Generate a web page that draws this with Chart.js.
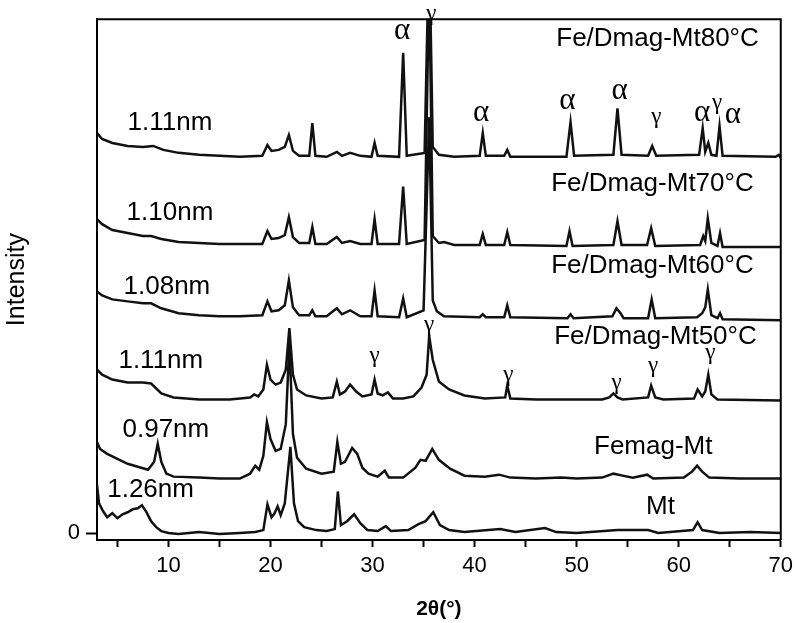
<!DOCTYPE html>
<html>
<head>
<meta charset="utf-8">
<script src="https://cdn.jsdelivr.net/npm/chart.js@4/dist/chart.umd.min.js"></script>
<style>
  html, body { margin: 0; padding: 0; background: #fff; }
  #wrap { width: 799px; height: 623px; }
</style>
</head>
<body>
<div id="wrap"><canvas id="plots"></canvas></div>
<script>
// XRD patterns, offset intensities (arbitrary units), 2theta in degrees
var t80x = [3.0, 3.5, 4.5, 6, 7.5, 8.5, 9.5, 11, 13, 15, 17, 19.2, 19.7, 20.1, 20.8, 21.4, 21.8, 22.2, 22.8, 23.8, 24.1, 24.4, 25.5, 26.5, 27, 27.8, 28.8, 29.9, 30.2, 30.5, 32.6, 33.0, 33.35, 35.1, 35.55, 35.9, 36.5, 38, 40.5, 40.8, 41.1, 42.9, 43.2, 43.5, 49.0, 49.4, 49.75, 53.6, 54.0, 54.4, 57.0, 57.4, 57.8, 62.0, 62.35, 62.6, 62.9, 63.2, 63.7, 64.0, 64.3, 69.5, 69.8, 70];
var t80y = [404, 398, 394, 391, 390, 391, 387, 384, 382, 381, 380, 381, 392, 386, 387, 390, 402, 386, 381, 381, 414, 381, 380, 385, 381, 384, 381, 380, 394, 381, 380, 485, 381, 384, 600, 390, 382, 380, 381, 404, 381, 381, 387, 380, 380, 415, 381, 382, 429, 382, 381, 391, 381, 382, 409, 385, 394, 382, 381, 411, 381, 380, 382, 379];

var t70x = [3.0, 3.5, 4.5, 6, 7.5, 8.3, 9.3, 11, 13, 15, 17, 19.2, 19.7, 20.1, 20.8, 21.4, 21.8, 22.2, 22.8, 23.8, 24.1, 24.4, 25.5, 26.5, 27, 27.8, 28.8, 29.9, 30.2, 30.5, 32.6, 33.0, 33.35, 35.1, 35.55, 35.9, 36.5, 37, 38, 40.5, 40.8, 41.1, 42.9, 43.2, 43.5, 49.0, 49.3, 49.6, 53.6, 54.0, 54.4, 56.9, 57.3, 57.7, 62.1, 62.4, 62.6, 62.85, 63.2, 63.8, 64.05, 64.3, 70];
var t70y = [317, 312, 306, 303, 300, 300, 297, 294, 293, 292, 292, 292, 305, 297, 298, 301, 319, 299, 293, 293, 309, 292, 292, 299, 293, 295, 292, 292, 317, 292, 292, 350, 292, 296, 560, 300, 293, 294, 291, 291, 302, 291, 291, 304, 291, 290, 305, 290, 291, 315, 291, 291, 308, 290, 291, 300, 295, 318, 293, 290, 303, 289, 289];

var t60x = [3.0, 3.5, 4.5, 6, 7.5, 8.3, 9.3, 11, 13, 15, 17, 19.2, 19.7, 20.1, 20.8, 21.4, 21.8, 22.2, 22.8, 23.8, 24.1, 24.4, 25.5, 26.5, 27, 27.8, 28.8, 29.9, 30.2, 30.5, 32.6, 33.0, 33.35, 35.0, 35.55, 35.9, 36.3, 37, 40.5, 40.8, 41.1, 42.9, 43.2, 43.5, 49.1, 49.4, 49.7, 53.5, 53.9, 54.3, 54.6, 57.0, 57.35, 57.7, 61.8, 62.3, 62.6, 62.85, 63.2, 63.8, 64.05, 64.3, 70];
var t60y = [244, 240, 236, 234, 232, 232, 227, 222, 220, 219, 219, 220, 234, 224, 225, 230, 255, 228, 220, 220, 225, 219, 219, 227, 221, 225, 219, 219, 245, 219, 218, 237, 218, 225, 420, 235, 224, 219, 218, 221, 218, 218, 230, 218, 217, 221, 217, 219, 227, 222, 217, 217, 236, 217, 218, 222, 228, 246, 220, 217, 222, 216, 215];

var t50x = [3.0, 3.5, 4.5, 6, 7.5, 8.3, 9.3, 10.5, 13, 16, 18.0, 18.4, 18.8, 19.3, 19.65, 20.0, 20.5, 21.0, 21.5, 21.85, 22.2, 22.6, 23.5, 25, 26.1, 26.5, 26.8, 27.3, 27.8, 28.4, 29, 29.9, 30.2, 30.5, 31.0, 31.5, 32, 33, 34, 34.8, 35.3, 35.55, 35.9, 36.5, 37.5, 39, 41, 43.0, 43.2, 43.5, 46, 50, 52.5, 53.2, 53.6, 54.0, 54.5, 57.0, 57.3, 57.7, 58.5, 61.5, 61.85, 62.3, 62.6, 62.9, 63.2, 63.8, 70];
var t50y = [165, 160, 155, 152, 152, 151, 141, 137, 135, 135, 137, 140, 138, 145, 170, 155, 150, 152, 165, 207, 160, 145, 139, 136, 137, 153, 140, 143, 150, 143, 138, 140, 155, 141, 139, 142, 136, 136, 138, 147, 160, 199, 175, 153, 145, 139, 136, 137, 149, 136, 135, 135, 135, 137, 141, 137, 135, 137, 149, 137, 135, 136, 145, 138, 143, 160, 140, 135, 134];

var femx = [3.0, 3.3, 4, 5, 6, 7, 8, 8.6, 8.95, 9.3, 9.8, 10.5, 13, 15, 17, 18.0, 18.5, 18.9, 19.3, 19.65, 20.0, 20.5, 21.0, 21.5, 21.85, 22.2, 22.6, 23.5, 25, 26.2, 26.55, 26.9, 27.3, 28.0, 28.5, 29, 29.6, 30.5, 31.2, 31.6, 33, 34.2, 34.7, 35.2, 35.85, 36.5, 37.6, 39, 41, 42.4, 43.5, 46, 48.5, 50, 52.5, 53.6, 54.5, 55.5, 56.9, 57.5, 60.5, 61.3, 61.8, 62.3, 63, 66, 70];
var femy = [92, 85, 80, 75, 70, 67, 64, 72, 90, 72, 60, 57, 56, 55, 55, 60, 68, 64, 78, 112, 95, 83, 85, 110, 192, 100, 76, 65, 60, 62, 92, 70, 72, 86, 80, 66, 60, 57, 63, 56, 56, 66, 74, 73, 85, 74, 65, 58, 57, 59, 56, 55, 56, 55, 56, 60, 58, 56, 59, 55, 56, 62, 68, 62, 56, 55, 55];

var mtx = [3.0, 3.2, 3.6, 4.0, 4.5, 5.0, 5.5, 6.0, 6.5, 7.0, 7.4, 7.8, 8.3, 8.8, 9.3, 10, 11, 13, 15, 17, 18.5, 19.3, 19.7, 20.1, 20.4, 20.7, 21.0, 21.4, 21.95, 22.3, 22.7, 23.3, 24.5, 25.5, 26.3, 26.6, 26.9, 27.5, 28.2, 28.8, 29.5, 30.5, 31.3, 31.8, 33.5, 34.5, 35.2, 35.95, 36.6, 37.5, 39, 42.5, 44, 46.9, 48, 50, 54, 57, 58, 61.4, 61.85, 62.3, 64, 67, 70];
var mty = [49, 30, 22, 16, 20, 15, 19, 21, 24, 25, 28, 22, 12, 6, 2, 0, -1, 1, -1, 0, 1, 3, 29, 16, 20, 27, 18, 30, 87, 30, 12, 6, 3, 2, 4, 42, 8, 12, 19, 10, 3, 2, 7, 2, 3, 9, 12, 21, 8, 3, 1, 4, 1, 5, 1, 0, 3, 3, 0, 3, 11, 3, 0, 1, 0];

var xTicks = [5, 10, 15, 20, 25, 30, 35, 40, 45, 50, 55, 60, 65, 70];

// text labels: [text, 2theta, intensity]
var spacingLabels = [["1.11nm", 6.0, 414], ["1.10nm", 5.9, 323], ["1.08nm", 5.6, 249], ["1.11nm", 5.1, 174], ["0.97nm", 5.5, 104], ["1.26nm", 4.0, 44]];
var sampleLabels = [["Fe/Dmag-Mt80°C", 48.0, 499], ["Fe/Dmag-Mt70°C", 47.5, 353], ["Fe/Dmag-Mt60°C", 47.5, 270], ["Fe/Dmag-Mt50°C", 47.8, 198], ["Femag-Mt", 51.7, 87], ["Mt", 56.8, 27]];
var phaseLabels = [["α", 32.9, 507], ["γ", 35.75, 524], ["α", 40.65, 424], ["α", 49.1, 437], ["α", 54.2, 447], ["γ", 57.8, 420], ["α", 62.3, 424], ["γ", 63.75, 434], ["α", 65.3, 422],
  ["γ", 30.2, 179], ["γ", 35.55, 210], ["γ", 43.3, 160], ["γ", 53.9, 152], ["γ", 57.5, 169], ["γ", 63.1, 182]];

function pts(xs, ys) {
  return xs.map(function (x, i) { return { x: x, y: ys[i] }; });
}

function trace(label, xs, ys) {
  return {
    label: label,
    data: pts(xs, ys),
    borderColor: '#111',
    borderWidth: 2.5,
    pointRadius: 0,
    tension: 0,
    fill: false
  };
}

// box round the plot area
var frame = {
  id: 'frame',
  afterDraw: function (chart) {
    var a = chart.chartArea, ctx = chart.ctx;
    ctx.save();
    ctx.strokeStyle = '#000';
    ctx.lineWidth = 2;
    ctx.beginPath();
    ctx.moveTo(a.left, a.top);
    ctx.lineTo(a.right, a.top);
    ctx.lineTo(a.right, a.bottom);
    ctx.stroke();
    ctx.restore();
  }
};

// text annotations placed in data coordinates
var labels = {
  id: 'labels',
  afterDatasetsDraw: function (chart) {
    var ctx = chart.ctx, sx = chart.scales.x, sy = chart.scales.y;
    ctx.save();
    ctx.fillStyle = '#000';
    ctx.textBaseline = 'middle';
    ctx.textAlign = 'left';
    ctx.font = '26px "Liberation Sans", Arial, sans-serif';
    spacingLabels.concat(sampleLabels).forEach(function (l) {
      ctx.fillText(l[0], sx.getPixelForValue(l[1]), sy.getPixelForValue(l[2]));
    });
    ctx.textAlign = 'center';
    phaseLabels.forEach(function (l) {
      ctx.font = (l[0] == 'α' ? '31px' : '23px') + ' "Liberation Serif", "DejaVu Serif", serif';
      ctx.fillText(l[0], sx.getPixelForValue(l[1]), sy.getPixelForValue(l[2]));
    });
    ctx.restore();
  }
};

new Chart(document.getElementById('plots'), {
  type: 'line',
  data: {
    datasets: [
      trace('Fe/Dmag-Mt80°C', t80x, t80y),
      trace('Fe/Dmag-Mt70°C', t70x, t70y),
      trace('Fe/Dmag-Mt60°C', t60x, t60y),
      trace('Fe/Dmag-Mt50°C', t50x, t50y),
      trace('Femag-Mt', femx, femy),
      trace('Mt', mtx, mty)
    ]
  },
  options: {
    responsive: true,
    maintainAspectRatio: false,
    animation: false,
    layout: { padding: { left: 0, top: 13, right: 16, bottom: 0 } },
    plugins: { legend: { display: false }, tooltip: { enabled: false } },
    scales: {
      x: {
        type: 'linear',
        min: 3,
        max: 70,
        afterBuildTicks: function (s) { s.ticks = xTicks.map(function (v) { return { value: v }; }); },
        afterFit: function (s) { s.height = 83; },
        ticks: {
          color: '#000',
          padding: 6,
          maxRotation: 0,
          autoSkip: false,
          font: { family: '"Liberation Sans", Arial, sans-serif', size: 22 },
          callback: function (v) { return v % 10 === 0 ? String(v) : ''; }
        },
        grid: { drawOnChartArea: false, drawTicks: true, tickLength: 7, tickWidth: 2, tickColor: '#000' },
        border: { color: '#000', width: 2 },
        title: {
          display: true,
          text: '2θ(°)',
          color: '#000',
          padding: { top: 0, bottom: 1 },
          font: { family: '"Liberation Sans", Arial, sans-serif', size: 21, weight: 'bold' }
        }
      },
      y: {
        min: -7,
        max: 519,
        afterBuildTicks: function (s) { s.ticks = [{ value: 0 }]; },
        afterFit: function (s) { s.width = 97; },
        ticks: {
          color: '#000',
          padding: 6,
          font: { family: '"Liberation Sans", Arial, sans-serif', size: 22 }
        },
        grid: { drawOnChartArea: false, drawTicks: true, tickLength: 11, tickWidth: 2, tickColor: '#000' },
        border: { color: '#000', width: 2 },
        title: {
          display: true,
          text: 'Intensity',
          color: '#000',
          padding: { top: 2, bottom: 0 },
          font: { family: '"Liberation Sans", Arial, sans-serif', size: 25 }
        }
      }
    }
  },
  plugins: [frame, labels]
});
</script>
</body>
</html>
